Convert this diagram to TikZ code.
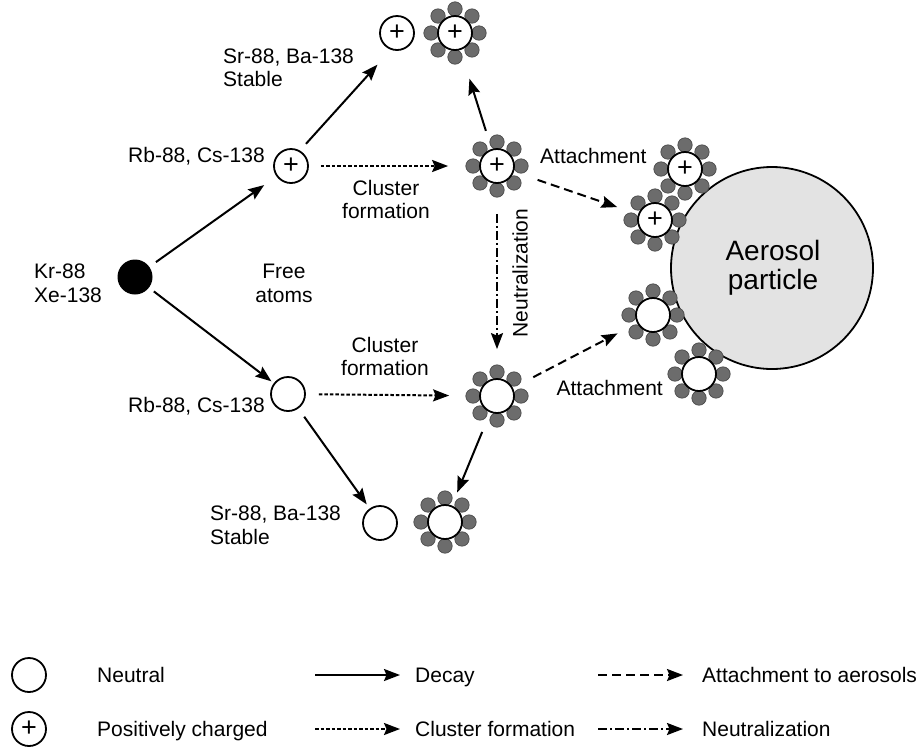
\documentclass[tikz,border=0pt]{standalone}
\usepackage{fontspec}
\setmainfont{Liberation Sans}
\usetikzlibrary{arrows.meta}
\definecolor{satfill}{RGB}{108,108,108}
\definecolor{satdraw}{RGB}{75,75,75}
\definecolor{aerofill}{RGB}{227,227,227}
\tikzset{
 part/.style={circle, draw, fill=white, line width=1.8pt, minimum size=34pt, inner sep=0pt, font=\fontsize{27}{27}\selectfont},
 blackpart/.style={circle, fill=black, minimum size=35pt, inner sep=0pt},
 sat/.style={fill=satfill, draw=satdraw, line width=0.7pt},
 lbl/.style={font=\fontsize{21}{24}\selectfont, inner sep=0pt},
 biglbl/.style={font=\fontsize{28}{30}\selectfont, inner sep=0pt},
 arr/.style={line width=2pt, -{Stealth[length=16pt,width=12pt,inset=2.5pt]}},
 decay/.style={arr},
 clusterf/.style={arr, dash pattern=on 3.5pt off 2pt},
 attach/.style={arr, dash pattern=on 9pt off 5pt},
 neutr/.style={arr, dash pattern=on 9pt off 3pt on 2pt off 3pt},
}
\newcommand\mkcluster[3]{%
  \foreach \ang in {0,45,...,315}{\draw[sat] (#2) ++(\ang:24pt) circle[radius=7.2pt];}
  \node[part] (#1) at (#2) {#3};}
\begin{document}
\begin{tikzpicture}[x=1pt,y=-1pt]
\useasboundingbox (0,0) rectangle (919,748);
% aerosol
\node[circle, draw, fill=aerofill, line width=1.8pt, minimum size=202pt, inner sep=0pt] (aero) at (772,268) {};
\node[biglbl, anchor=base] (aerot1) at (773,260) {Aerosol};
\node[biglbl, anchor=base] (aerot2) at (773,289) {particle};
% particles
\node[blackpart] (black) at (135,277) {};
\node[part] (plusA) at (291,166) {+};
\node[part] (plainTop) at (397,33) {+};
\mkcluster{clusTop}{455,33}{+}
\mkcluster{clusMid}{497,166}{+}
\mkcluster{clusTR}{685,169}{+}
\mkcluster{clusAtt}{655,220}{+}
\node[part] (neutA) at (288,394) {};
\mkcluster{clusN}{497,396}{}
\mkcluster{clusAttN}{653,315}{}
\mkcluster{clusN2}{699,374}{}
\node[part] (neutB) at (380,523) {};
\mkcluster{clusB}{445,522}{}
% labels
\node[lbl, anchor=base west] (kr) at (34,278) {Kr-88};
\node[lbl, anchor=base west] (xe) at (34,302) {Xe-138};
\node[lbl, anchor=base] (free1) at (284,278) {Free};
\node[lbl, anchor=base] (free2) at (284,302) {atoms};
\node[lbl, anchor=base east] (rbA) at (265,162) {Rb-88, Cs-138};
\node[lbl, anchor=base west] (srA) at (223,63) {Sr-88, Ba-138};
\node[lbl, anchor=base west] (stA) at (223,86) {Stable};
\node[lbl, anchor=base] (cf1) at (386,195) {Cluster};
\node[lbl, anchor=base] (cf2) at (386,218) {formation};
\node[lbl, anchor=base] (cf3) at (385,352) {Cluster};
\node[lbl, anchor=base] (cf4) at (385,375) {formation};
\node[lbl, anchor=base west] (att1) at (540,163) {Attachment};
\node[lbl, anchor=base east] (att2) at (663,395) {Attachment};
\node[lbl, rotate=90] (neu) at (520,273) {Neutralization};
\node[lbl, anchor=base east] (rbB) at (265,412) {Rb-88, Cs-138};
\node[lbl, anchor=base west] (srB) at (210,520) {Sr-88, Ba-138};
\node[lbl, anchor=base west] (stB) at (210,544) {Stable};
% arrows
\draw[decay, shorten <=8pt, shorten >=15pt] (black) -- (plusA);
\draw[decay, shorten <=6pt, shorten >=3pt] (black) -- (neutA);
\draw[decay, shorten <=9pt, shorten >=20pt] (plusA.60) -- (plainTop.250);
\draw[decay, shorten <=19pt, shorten >=30pt] (clusMid) -- (clusTop);
\draw[decay, shorten <=10pt, shorten >=5pt] (neutA) -- (neutB);
\draw[decay, shorten <=21pt, shorten >=14pt] (clusN) -- (clusB);
\draw[clusterf, shorten <=12pt, shorten >=31pt] (plusA) -- (clusMid);
\draw[clusterf, shorten <=13pt, shorten >=30pt] (neutA) -- (clusN);
\draw[attach, shorten <=25pt, shorten >=22pt] (clusMid) -- (clusAtt);
\draw[attach, shorten <=23pt, shorten >=22pt] (clusN) -- (clusAttN);
\draw[neutr, shorten <=30pt, shorten >=29pt] (clusMid) -- (clusN);
% legend
\node[part] (lgN) at (29,675) {};
\node[part] (lgP) at (29,729) {+};
\node[lbl, anchor=base west] (lgNt) at (97,682) {Neutral};
\node[lbl, anchor=base west] (lgPt) at (97,736) {Positively charged};
\coordinate (d1) at (315,675); \coordinate (d2) at (400,675);
\draw[decay] (d1) -- (d2);
\node[lbl, anchor=base west] (lgD) at (415,682) {Decay};
\coordinate (c1) at (315,729); \coordinate (c2) at (400,729);
\draw[clusterf] (c1) -- (c2);
\node[lbl, anchor=base west] (lgC) at (415,736) {Cluster formation};
\coordinate (a1) at (598,675); \coordinate (a2) at (683,675);
\draw[attach] (a1) -- (a2);
\node[lbl, anchor=base west] (lgA) at (702,682) {Attachment to aerosols};
\coordinate (n1) at (598,729); \coordinate (n2) at (683,729);
\draw[neutr] (n1) -- (n2);
\node[lbl, anchor=base west] (lgNe) at (702,736) {Neutralization};
\end{tikzpicture}
\end{document}
